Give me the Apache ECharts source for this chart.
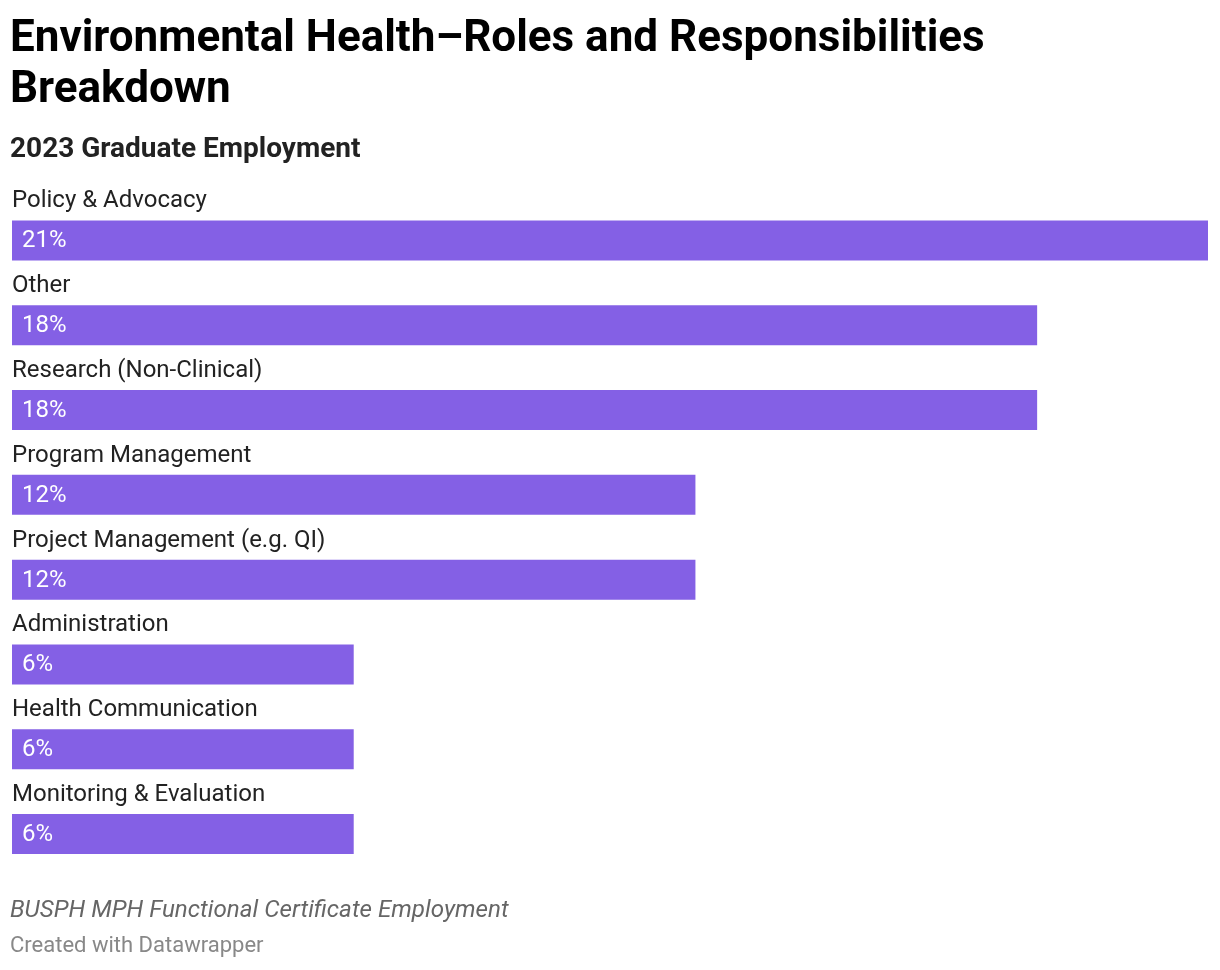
<!DOCTYPE html>
<html>
<head>
<meta charset="utf-8">
<script src="https://cdn.jsdelivr.net/npm/echarts@6/dist/echarts.min.js"></script>
<style>
  html, body { margin: 0; padding: 0; background: #fff; }
  #chart { width: 1220px; height: 970px; }
</style>
</head>
<body>
<div id="chart"></div>
<script>
const categories = [
  "Policy & Advocacy",
  "Other",
  "Research (Non-Clinical)",
  "Program Management",
  "Project Management (e.g. QI)",
  "Administration",
  "Health Communication",
  "Monitoring & Evaluation"
];
const values = [21, 18, 18, 12, 12, 6, 6, 6];

const titleText = "Environmental Health\u2013Roles and Responsibilities\nBreakdown";
const subtitleText = "2023 Graduate Employment";
const notesText = "BUSPH MPH Functional Certificate Employment";
const creditText = "Created with Datawrapper";

const FONT = "Roboto, 'Noto Sans', sans-serif";
const BAR_COLOR = "#8460E5";

const chart = echarts.init(document.getElementById('chart'), null, { renderer: 'canvas' });
chart.setOption({
  backgroundColor: '#ffffff',
  animation: false,
  title: [
    { text: titleText, left: 10, top: 14, padding: 0,
      textStyle: { fontFamily: FONT, fontSize: 44, fontWeight: 'bold', color: '#000', lineHeight: 51 } },
    { text: subtitleText, left: 10, top: 135, padding: 0,
      textStyle: { fontFamily: FONT, fontSize: 28, fontWeight: 'bold', color: '#222', lineHeight: 30 } },
    { text: notesText, left: 10, top: 897, padding: 0,
      textStyle: { fontFamily: FONT, fontSize: 24.2, fontStyle: 'italic', fontWeight: 'normal', color: '#666', lineHeight: 28 } },
    { text: creditText, left: 10, top: 934, padding: 0,
      textStyle: { fontFamily: FONT, fontSize: 22, fontWeight: 'normal', color: '#888', lineHeight: 24 } }
  ],
  grid: { left: 12, right: 12, top: 198, bottom: 93.5, containLabel: false },
  xAxis: {
    type: 'value', min: 0, max: 21,
    axisLine: { show: false }, axisTick: { show: false },
    axisLabel: { show: false }, splitLine: { show: false }
  },
  yAxis: {
    type: 'category', data: categories, inverse: true,
    axisLine: { show: false }, axisTick: { show: false },
    axisLabel: { show: false }, splitLine: { show: false }
  },
  series: [
    {
      type: 'bar', data: values, barWidth: 40, barGap: '-100%',
      itemStyle: { color: BAR_COLOR },
      label: {
        show: true, position: 'insideLeft', distance: 10, offset: [0, 1],
        formatter: '{c}%', color: '#fff', fontFamily: FONT, fontSize: 24
      },
      silent: true
    },
    {
      type: 'bar', data: values, barWidth: 40, barGap: '-100%',
      itemStyle: { color: 'rgba(0,0,0,0)' },
      label: {
        show: true, position: [0, -19], align: 'left', verticalAlign: 'middle',
        formatter: function (p) { return p.name; },
        color: '#222', fontFamily: FONT, fontSize: 24
      },
      silent: true
    }
  ]
});
</script>
</body>
</html>
